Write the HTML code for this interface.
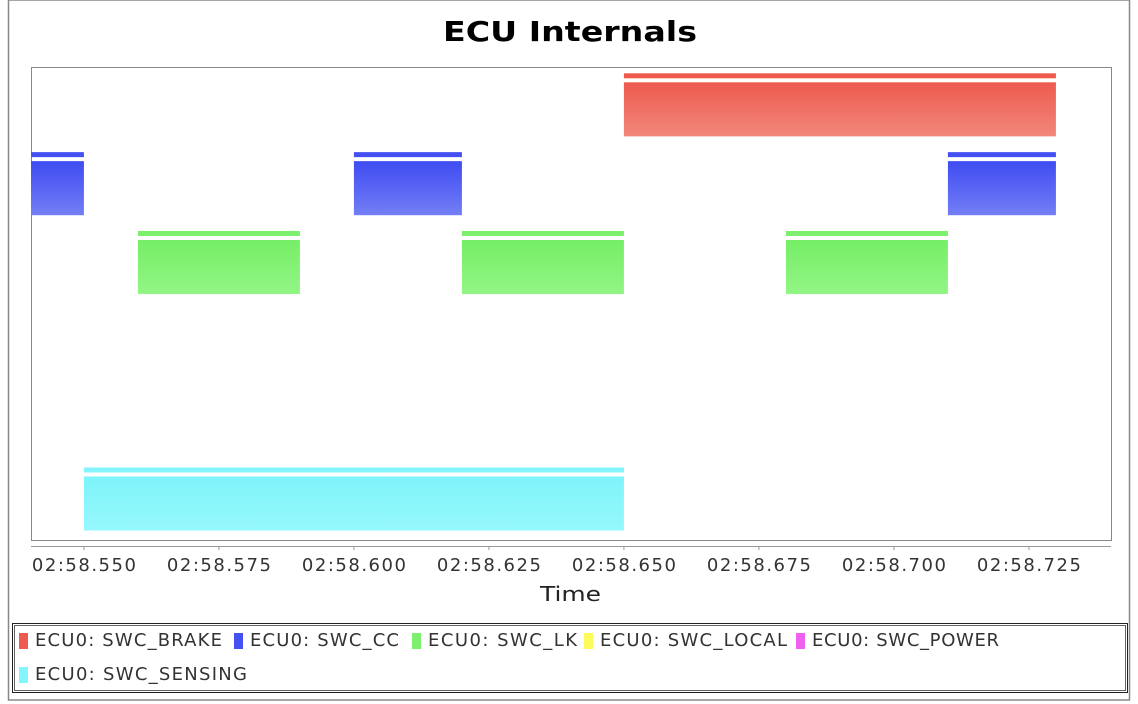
<!DOCTYPE html>
<html><head><meta charset="utf-8"><style>
body{margin:0;background:#fff;font-family:"DejaVu Sans","Liberation Sans",sans-serif;}
#wrap{position:relative;width:1138px;height:704px;overflow:hidden;background:#fff}
</style></head><body>
<div id="wrap">
<svg id="svg" width="1138" height="704" xmlns="http://www.w3.org/2000/svg" font-family="DejaVu Sans, sans-serif">
<defs>
<linearGradient id="gBRAKE" x1="0" y1="0" x2="0" y2="1"><stop offset="0" stop-color="#ee5a4e"/><stop offset="1" stop-color="#f2877b"/></linearGradient>
<linearGradient id="gCC" x1="0" y1="0" x2="0" y2="1"><stop offset="0" stop-color="#3f4cf2"/><stop offset="1" stop-color="#737ef5"/></linearGradient>
<linearGradient id="gLK" x1="0" y1="0" x2="0" y2="1"><stop offset="0" stop-color="#76ee66"/><stop offset="1" stop-color="#92f585"/></linearGradient>
<linearGradient id="gSENSING" x1="0" y1="0" x2="0" y2="1"><stop offset="0" stop-color="#7ef4fa"/><stop offset="1" stop-color="#96f8fc"/></linearGradient>
</defs>
<rect x="8.5" y="0" width="1121" height="700" fill="none" stroke="#888" stroke-width="1.5"/>
<text x="443" y="41" font-size="28" font-weight="bold" fill="#000" textLength="254" lengthAdjust="spacingAndGlyphs">ECU Internals</text>
<rect x="31.5" y="67.5" width="1080" height="473" fill="#fff" stroke="#888"/>
<g id="bars"></g>
<line x1="31" y1="546.5" x2="1111" y2="546.5" stroke="#999"/>
<g id="ticks"></g>
<text x="540" y="601" font-size="20" fill="#222" textLength="61" lengthAdjust="spacingAndGlyphs">Time</text>
<rect x="12.5" y="623.5" width="1115" height="69" fill="none" stroke="#222"/>
<rect x="14.5" y="625.5" width="1111" height="65" fill="none" stroke="#222" stroke-width="0.7"/>
<g id="legend" font-size="18" fill="#333"></g>
</svg>
</div>
<script>
const categories = ["SWC_BRAKE","SWC_CC","SWC_LK","SWC_LOCAL","SWC_POWER","SWC_SENSING"];
const starts = [650, 535, 600, 710, 560, 620, 680, 550];
const ends   = [730, 550, 620, 730, 590, 650, 710, 650];
const taskCat = [0, 1, 1, 1, 2, 2, 2, 5];
const tickValues = [550, 575, 600, 625, 650, 675, 700, 725];
const tickLabels = ["02:58.550","02:58.575","02:58.600","02:58.625","02:58.650","02:58.675","02:58.700","02:58.725"];
const colors = ["#ee5a4e","#4450f2","#7cf06c","#fbfb5a","#f060f0","#84f6fb"];

const NS="http://www.w3.org/2000/svg";
const X0=31,X1=1111,Y0=67,Y1=540,D0=540.2,D1=740.2;
const xs=v=>X0+(v-D0)/(D1-D0)*(X1-X0);
const rowH=(Y1-Y0)/categories.length;
const ys=i=>Y0+i*rowH;
function mk(tag,attrs,parent){const e=document.createElementNS(NS,tag);for(const k in attrs)e.setAttribute(k,attrs[k]);parent.appendChild(e);return e;}
const bars=document.getElementById('bars');
for(let i=0;i<starts.length;i++){
  const c=taskCat[i];
  const a=Math.max(X0,xs(starts[i])), b=Math.min(X1,xs(ends[i]));
  const top=ys(c)+rowH*0.08, bot=ys(c)+rowH*0.88;
  const g=mk('g',{},bars);
  
  
  mk('rect',{x:a,y:top,width:b-a,height:5,fill:colors[c]},g);
  mk('rect',{x:a,y:top+9,width:b-a,height:bot-top-9,fill:'url(#g'+categories[c].slice(4)+')'},g);
}
const tg=document.getElementById('ticks');
tickValues.forEach((v,i)=>{
  const x=xs(v);
  const l=mk('line',{x1:x,y1:546,x2:x,y2:550,stroke:'#999'},tg);
  
  
  const t=mk('text',{x:x-52,y:571,'font-size':18,fill:'#333',textLength:104,lengthAdjust:'spacing'},tg);
  t.textContent=tickLabels[i];
  
  
});
const lg=document.getElementById('legend');
const lpos=[[19,646],[234,646],[412,646],[584,646],[796,646],[19,680]];
categories.forEach((c,i)=>{
  const [x,y]=lpos[i];
  const g=mk('g',{},lg);
  
  
  mk('rect',{x:x,y:y-13,width:9,height:16,fill:colors[i]},g);
  const t=mk('text',{x:x+16,y:y,textLength:(('ECU0: '+c).length*12.45).toFixed(0),lengthAdjust:'spacing'},g);
  t.textContent='ECU0: '+c;
});
</script>
</body></html>
